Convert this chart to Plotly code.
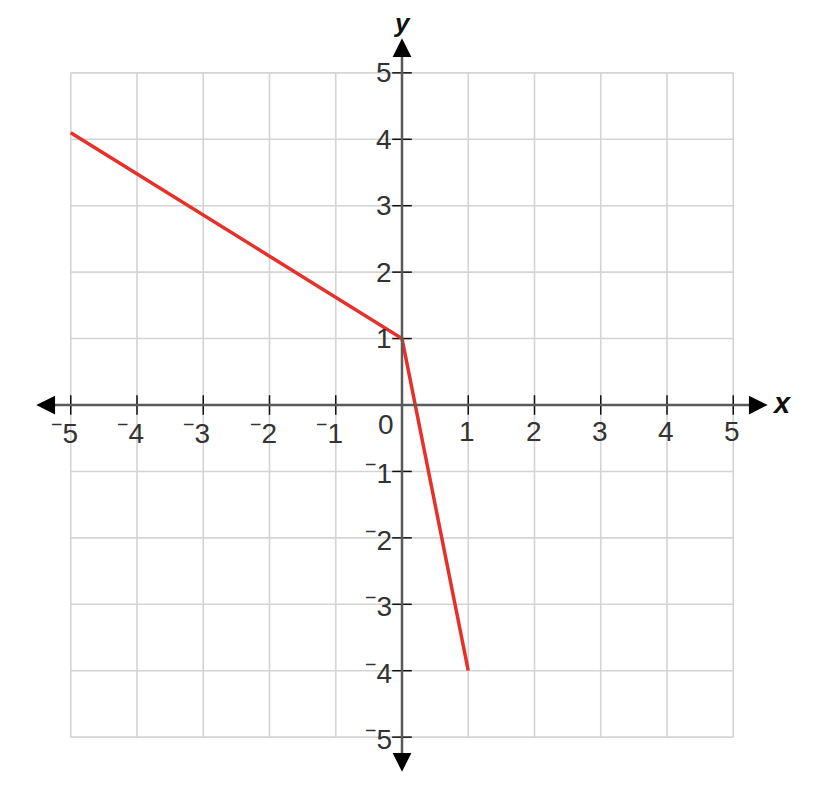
import plotly.graph_objects as go

# piecewise graph
line_x = [-5, 0, 1]
line_y = [4.1, 1, -4]

tick_vals = [-5, -4, -3, -2, -1, 1, 2, 3, 4, 5]
grid_vals = [-5, -4, -3, -2, -1, 0, 1, 2, 3, 4, 5]

LO, HI = -5.6, 5.6
FONT = "Liberation Sans, Arial, sans-serif"


def tick_text(v):
    return f"<sup>−</sup>{abs(v)}" if v < 0 else str(v)


fig = go.Figure()

# grid
for g in grid_vals:
    fig.add_shape(type="line", x0=g, x1=g, y0=-5, y1=5,
                  line=dict(color="#d4d4d4", width=1.6), layer="below")
    fig.add_shape(type="line", x0=-5, x1=5, y0=g, y1=g,
                  line=dict(color="#d4d4d4", width=1.6), layer="below")

# axes
fig.add_shape(type="line", x0=-5.35, x1=5.35, y0=0, y1=0,
              line=dict(color="#5a5a5a", width=2.5))
fig.add_shape(type="line", x0=0, x1=0, y0=-5.35, y1=5.35,
              line=dict(color="#5a5a5a", width=2.5))

# arrow heads
for tx, ty, fx, fy in [(5.52, 0, 5.3, 0), (-5.52, 0, -5.3, 0),
                       (0, 5.52, 0, 5.3), (0, -5.52, 0, -5.3)]:
    fig.add_annotation(x=tx, y=ty, ax=fx, ay=fy, xref="x", yref="y",
                       axref="x", ayref="y", showarrow=True, arrowhead=2,
                       arrowsize=1.5, arrowwidth=2.5, arrowcolor="#000", text="")

# tick marks
tick_marker = dict(size=14, color="#111", line=dict(color="#111", width=1.5))
fig.add_trace(go.Scatter(x=tick_vals, y=[0] * len(tick_vals), mode="markers",
                         marker=dict(symbol="line-ns-open", **tick_marker),
                         hoverinfo="skip", showlegend=False))
fig.add_trace(go.Scatter(x=[0] * len(tick_vals), y=tick_vals, mode="markers",
                         marker=dict(symbol="line-ew-open", **tick_marker),
                         hoverinfo="skip", showlegend=False))

# the graph
fig.add_trace(go.Scatter(x=line_x, y=line_y, mode="lines",
                         line=dict(color="#e8302a", width=3.5),
                         hoverinfo="skip", showlegend=False))

lab_font = dict(family=FONT, size=28, color="#333")
for v in tick_vals:
    fig.add_annotation(x=v, y=0, text=tick_text(v), showarrow=False,
                       xanchor="right", yanchor="middle", xshift=9, yshift=-26,
                       font=lab_font)
    fig.add_annotation(x=0, y=v, text=tick_text(v), showarrow=False,
                       xanchor="right", yanchor="middle", xshift=-8,
                       font=lab_font)
fig.add_annotation(x=0, y=0, text="0", showarrow=False, xanchor="center",
                   yanchor="middle", xshift=-16, yshift=-19, font=lab_font)

# axis names
fig.add_annotation(x=5.6, y=0, text="<b><i>x</i></b>", showarrow=False,
                   xanchor="left", yanchor="middle", xshift=-3, yshift=2,
                   font=dict(family=FONT, size=29, color="#111"))
fig.add_annotation(x=0, y=5.6, text="<b><i>y</i></b>", showarrow=False,
                   xanchor="center", yanchor="middle", yshift=10,
                   font=dict(family=FONT, size=26, color="#111"))

fig.update_xaxes(range=[LO, HI], visible=False, fixedrange=True)
fig.update_yaxes(range=[LO, HI], visible=False, fixedrange=True)
fig.update_layout(width=834, height=796, plot_bgcolor="white",
                  paper_bgcolor="white",
                  margin=dict(l=23, r=69, t=25, b=27))

fig.write_html("out.html")
